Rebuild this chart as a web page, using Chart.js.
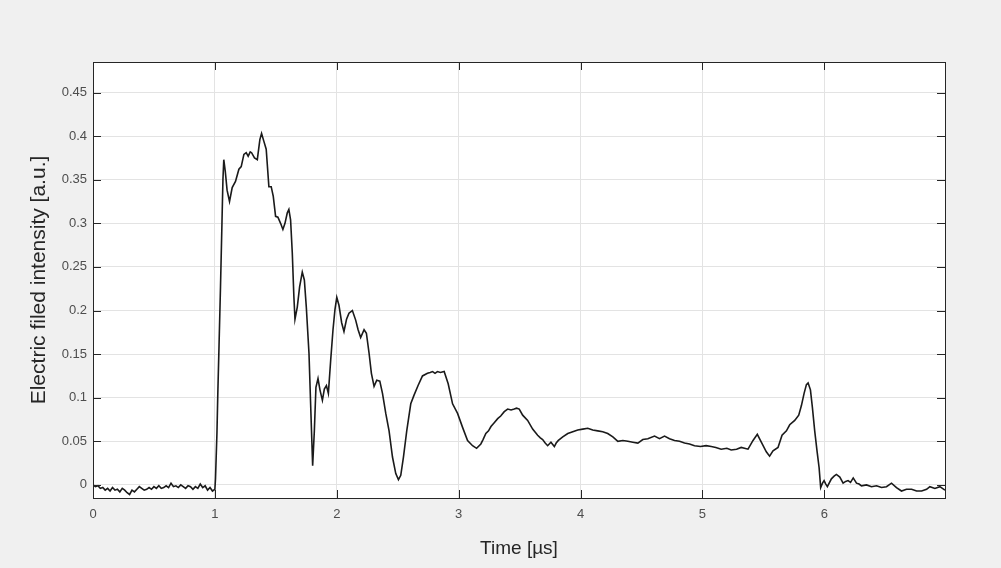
<!DOCTYPE html>
<html>
<head>
<meta charset="utf-8">
<script src="https://cdn.jsdelivr.net/npm/chart.js@4"></script>
<style>
  html, body { margin: 0; padding: 0; background: #f0f0f0; }
  #wrap { width: 1001px; height: 568px; }
</style>
</head>
<body>
<div id="wrap"><canvas id="chart"></canvas></div>
<script>
// time in microseconds
const time = [
  0, 0.02, 0.04, 0.06, 0.08, 0.1, 0.12, 0.14, 0.16, 0.18, 0.2, 0.22, 0.24, 0.26, 0.28, 0.3, 0.32, 0.34, 0.36, 0.38,
  0.4, 0.42, 0.44, 0.46, 0.48, 0.5, 0.52, 0.54, 0.56, 0.58, 0.6, 0.62, 0.64, 0.66, 0.68, 0.7, 0.72, 0.74, 0.76, 0.78,
  0.8, 0.82, 0.84, 0.86, 0.88, 0.9, 0.92, 0.94, 0.96, 0.98, 1.0,
  1.005, 1.017, 1.024, 1.034, 1.046, 1.058, 1.066, 1.073, 1.085, 1.1, 1.12, 1.142, 1.169, 1.197, 1.216, 1.238, 1.257,
  1.273, 1.29, 1.301, 1.325, 1.348, 1.369, 1.383, 1.402, 1.421, 1.443, 1.462, 1.479, 1.498, 1.517, 1.539, 1.558, 1.575,
  1.594, 1.607, 1.621, 1.635, 1.648, 1.657, 1.676, 1.695, 1.717, 1.734, 1.75, 1.772, 1.788, 1.802, 1.816, 1.829, 1.846,
  1.862, 1.882, 1.898, 1.915, 1.931, 1.95, 1.969, 1.985, 2.0, 2.018, 2.04, 2.059, 2.08, 2.1, 2.128, 2.155, 2.175, 2.196,
  2.224, 2.243, 2.265, 2.284, 2.306, 2.328, 2.353, 2.375, 2.402, 2.429, 2.457, 2.484, 2.506, 2.525, 2.547, 2.574, 2.607,
  2.634, 2.667, 2.703, 2.744, 2.766, 2.786, 2.806, 2.826, 2.85, 2.881, 2.914, 2.95, 2.991, 3.032, 3.073, 3.114, 3.147,
  3.182, 3.2, 3.223, 3.245, 3.265, 3.29, 3.32, 3.345, 3.374, 3.402, 3.43, 3.456, 3.475, 3.497, 3.525, 3.566, 3.607, 3.63,
  3.648, 3.67, 3.689, 3.71, 3.73, 3.757, 3.785, 3.8, 3.818, 3.854, 3.895, 3.936, 3.977, 4.018, 4.059, 4.1, 4.141, 4.182,
  4.223, 4.265, 4.306, 4.347, 4.388, 4.429, 4.47, 4.511, 4.552, 4.607, 4.648, 4.689, 4.73, 4.771, 4.812, 4.853, 4.894,
  4.935, 4.984, 5.03, 5.072, 5.11, 5.154, 5.2, 5.236, 5.28, 5.318, 5.374, 5.415, 5.45, 5.483, 5.524, 5.551, 5.579, 5.62,
  5.653, 5.689, 5.716, 5.757, 5.79, 5.812, 5.834, 5.853, 5.867, 5.886, 5.902, 5.921, 5.94, 5.957, 5.97, 5.985, 5.998,
  6.012, 6.025, 6.058, 6.08, 6.099, 6.127, 6.154, 6.175, 6.195, 6.215, 6.237, 6.264, 6.285, 6.305, 6.346, 6.387, 6.428,
  6.469, 6.51, 6.551, 6.592, 6.633, 6.674, 6.716, 6.757, 6.798, 6.839, 6.866, 6.907, 6.948, 6.99
];

// electric field intensity [a.u.]
const field = [
  0.000, -0.002, -0.001, -0.004, -0.003, -0.006, -0.004, -0.007, -0.003, -0.006, -0.005, -0.008, -0.004, -0.006, -0.009,
  -0.011, -0.006, -0.008, -0.005, -0.002, -0.004, -0.006, -0.005, -0.003, -0.005, -0.002, -0.004, -0.001, -0.004, -0.003,
  -0.001, -0.003, 0.002, -0.002, -0.001, -0.003, 0.000, -0.002, -0.004, -0.001, -0.002, -0.005, -0.002, -0.004, 0.001,
  -0.003, -0.001, -0.006, -0.003, -0.007, -0.005,
  0.007, 0.060, 0.105, 0.160, 0.227, 0.300, 0.350, 0.373, 0.360, 0.338, 0.325, 0.341, 0.348, 0.362, 0.365, 0.379, 0.381,
  0.377, 0.382, 0.381, 0.375, 0.373, 0.396, 0.403, 0.394, 0.385, 0.342, 0.342, 0.331, 0.308, 0.307, 0.300, 0.293, 0.300,
  0.312, 0.316, 0.304, 0.266, 0.216, 0.190, 0.204, 0.227, 0.244, 0.235, 0.204, 0.151, 0.082, 0.022, 0.062, 0.112, 0.122,
  0.109, 0.097, 0.110, 0.114, 0.105, 0.143, 0.178, 0.201, 0.215, 0.206, 0.186, 0.176, 0.190, 0.197, 0.200, 0.189, 0.178,
  0.169, 0.178, 0.174, 0.151, 0.128, 0.113, 0.120, 0.119, 0.105, 0.082, 0.062, 0.032, 0.013, 0.006, 0.011, 0.032, 0.062,
  0.093, 0.103, 0.114, 0.125, 0.128, 0.129, 0.130, 0.128, 0.130, 0.129, 0.130, 0.116, 0.093, 0.082, 0.066, 0.051, 0.045,
  0.042, 0.047, 0.052, 0.059, 0.062, 0.067, 0.071, 0.076, 0.079, 0.084, 0.087, 0.086, 0.087, 0.088, 0.087, 0.080, 0.074,
  0.064, 0.060, 0.057, 0.054, 0.052, 0.048, 0.045, 0.049, 0.044, 0.048, 0.051, 0.055, 0.059, 0.061, 0.063, 0.064, 0.065,
  0.063, 0.062, 0.061, 0.059, 0.055, 0.050, 0.051, 0.050, 0.049, 0.048, 0.052, 0.053, 0.056, 0.053, 0.056, 0.053, 0.051,
  0.050, 0.048, 0.047, 0.045, 0.044, 0.045, 0.044, 0.043, 0.041, 0.042, 0.040, 0.041, 0.043, 0.041, 0.051, 0.058, 0.049,
  0.038, 0.033, 0.039, 0.043, 0.057, 0.062, 0.069, 0.074, 0.080, 0.091, 0.105, 0.115, 0.117, 0.109, 0.089, 0.062, 0.039,
  0.020, -0.003, 0.002, 0.005, 0.001, -0.002, 0.007, 0.010, 0.012, 0.009, 0.002, 0.004, 0.005, 0.003, 0.008, 0.002,
  0.001, -0.001, 0.000, -0.002, -0.001, -0.003, -0.002, 0.002, -0.003, -0.007, -0.005, -0.005, -0.007, -0.007, -0.005,
  -0.002, -0.004, -0.002, -0.006
];

const xTicks = [0, 1, 2, 3, 4, 5, 6];
const yTicks = [0, 0.05, 0.1, 0.15, 0.2, 0.25, 0.3, 0.35, 0.4, 0.45];

const points = time.map((t, i) => ({ x: t, y: field[i] }));

// white plot box, full frame and inward tick marks (MATLAB style)
const axesBox = {
  id: "axesBox",
  beforeDraw(chart) {
    const { ctx, chartArea: a } = chart;
    ctx.save();
    ctx.fillStyle = "#ffffff";
    ctx.fillRect(a.left, a.top, a.right - a.left, a.bottom - a.top);
    ctx.restore();
  },
  afterDraw(chart) {
    const { ctx, chartArea: a, scales } = chart;
    const len = 8;
    ctx.save();
    ctx.strokeStyle = "#262626";
    ctx.lineWidth = 1;
    ctx.beginPath();
    xTicks.forEach((v) => {
      const px = Math.round(scales.x.getPixelForValue(v)) + 0.5;
      ctx.moveTo(px, a.bottom);
      ctx.lineTo(px, a.bottom - len);
      ctx.moveTo(px, a.top);
      ctx.lineTo(px, a.top + len);
    });
    yTicks.forEach((v) => {
      const py = Math.round(scales.y.getPixelForValue(v)) + 0.5;
      ctx.moveTo(a.left, py);
      ctx.lineTo(a.left + len, py);
      ctx.moveTo(a.right, py);
      ctx.lineTo(a.right - len, py);
    });
    ctx.stroke();
    ctx.strokeRect(Math.round(a.left) + 0.5, Math.round(a.top) + 0.5,
      Math.round(a.right - a.left), Math.round(a.bottom - a.top));
    ctx.restore();
  },
};

new Chart(document.getElementById("chart").getContext("2d"), {
  type: "line",
  data: {
    datasets: [
      {
        data: points,
        borderColor: "#1a1a1a",
        borderWidth: 1.6,
        pointRadius: 0,
        tension: 0,
        fill: false,
      },
    ],
  },
  options: {
    responsive: true,
    maintainAspectRatio: false,
    animation: false,
    layout: { padding: { left: 0, top: 62, right: 56, bottom: 0 } },
    plugins: {
      legend: { display: false },
      tooltip: { enabled: false },
    },
    scales: {
      x: {
        type: "linear",
        min: 0,
        max: 6.99,
        afterBuildTicks: (scale) => {
          scale.ticks = xTicks.map((v) => ({ value: v }));
        },
        afterFit: (scale) => {
          scale.height = 70;
        },
        grid: { color: "#e3e3e3", drawTicks: false },
        border: { display: false },
        ticks: {
          padding: 9,
          maxRotation: 0,
          color: "#4d4d4d",
          font: { family: "Liberation Sans, Arial", size: 13 },
          callback: (v) => String(v),
        },
        title: {
          display: true,
          text: "Time [µs]",
          color: "#262626",
          font: { family: "Liberation Sans, Arial", size: 19 },
          padding: { top: 0, bottom: 8 },
        },
      },
      y: {
        type: "linear",
        min: -0.015,
        max: 0.485,
        afterBuildTicks: (scale) => {
          scale.ticks = yTicks.map((v) => ({ value: v }));
        },
        afterFit: (scale) => {
          scale.width = 93;
        },
        grid: { color: "#e3e3e3", drawTicks: false },
        border: { display: false },
        ticks: {
          padding: 6,
          color: "#4d4d4d",
          font: { family: "Liberation Sans, Arial", size: 13 },
          callback: (v) => String(Math.round(v * 100) / 100),
        },
        title: {
          display: true,
          text: "Electric filed intensity [a.u.]",
          color: "#262626",
          font: { family: "Liberation Sans, Arial", size: 21 },
          padding: { top: 27, bottom: 0 },
        },
      },
    },
  },
  plugins: [axesBox],
});
</script>
</body>
</html>
